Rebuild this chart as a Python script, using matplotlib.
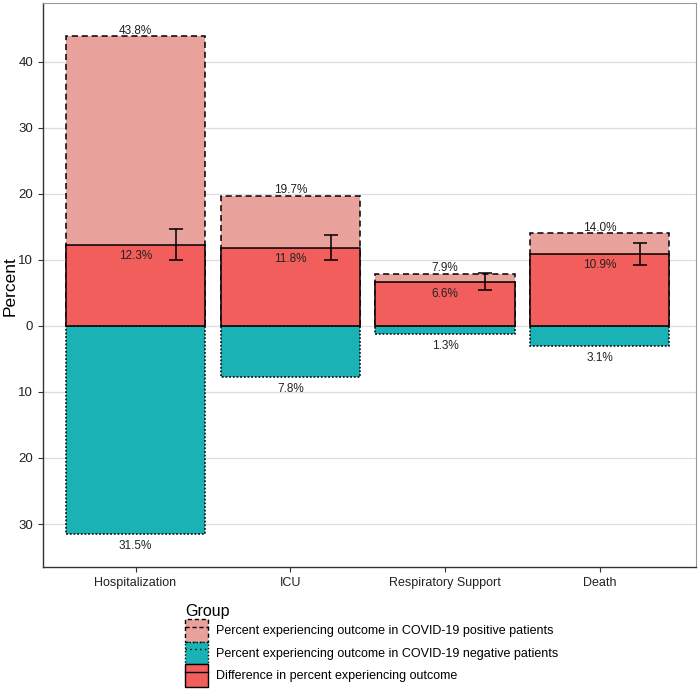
import numpy as np
import matplotlib
matplotlib.use("Agg")
import matplotlib.pyplot as plt
from matplotlib.patches import Patch
from matplotlib.lines import Line2D
from matplotlib.legend_handler import HandlerTuple
from matplotlib.ticker import FuncFormatter

plt.rcParams['font.family'] = ['Liberation Sans', 'DejaVu Sans']

outcomes = ['Hospitalization', 'ICU', 'Respiratory Support', 'Death']
pct_pos = [43.8, 19.7, 7.9, 14.0]
pct_neg = [31.5, 7.8, 1.3, 3.1]
pct_diff = [12.3, 11.8, 6.6, 10.9]
ci_low = [10.0, 10.0, 5.45, 9.2]
ci_high = [14.7, 13.8, 8.0, 12.5]

col_pos = '#E8A19B'
col_neg = '#1AB2B5'
col_diff = '#F25E5B'

fig = plt.figure(figsize=(7, 7), dpi=100)
ax = fig.add_axes([0.061, 0.19, 0.933, 0.806])

x = np.arange(1, len(outcomes) + 1)
w = 0.9
pos = np.array(pct_pos)
neg = np.array(pct_neg)
diff = np.array(pct_diff)

ax.bar(x, pos, width=w, color=col_pos, edgecolor='black', linestyle=(0, (4, 2.5)), linewidth=1.1, zorder=2)
ax.bar(x, diff, width=w, color=col_diff, edgecolor='black', linewidth=1.1, zorder=3)
ax.bar(x, -neg, width=w, color=col_neg, edgecolor='black', linestyle=(0, (1.2, 1.2)), linewidth=1.1, zorder=2)

ax.errorbar(x + 0.26, diff, yerr=[diff - np.array(ci_low), np.array(ci_high) - diff],
            fmt='none', ecolor='black', elinewidth=1.1, capsize=4.9, capthick=1.1, zorder=4)

for xi, p, n, d in zip(x, pos, neg, diff):
    ax.annotate(f"{p:.1f}%", (xi, p), xytext=(0, -0.5), textcoords='offset points',
                ha='center', va='bottom', fontsize=8.5, color='#222222', zorder=5)
    ax.annotate(f"{d:.1f}%", (xi, d), xytext=(0, -4), textcoords='offset points',
                ha='center', va='top', fontsize=8.5, color='#222222', zorder=5)
    ax.annotate(f"{n:.1f}%", (xi, -n), xytext=(0, -4), textcoords='offset points',
                ha='center', va='top', fontsize=8.5, color='#222222', zorder=5)

ax.set_xlim(0.4, 4.62)
ax.set_ylim(-36.5, 48.9)
ax.set_xticks(x)
ax.set_xticklabels(outcomes, fontsize=9, color='#222222')
ax.set_yticks(np.arange(-30, 41, 10))
ax.yaxis.set_major_formatter(FuncFormatter(lambda v, p: f"{abs(v):g}"))
ax.tick_params(axis='y', labelsize=9.5, labelcolor='#222222', length=3.5, color='#333333')
ax.tick_params(axis='x', length=3.5, color='#333333')
ax.yaxis.grid(True, color='#DDDDDD', linewidth=0.9, zorder=0)
ax.set_axisbelow(True)
for s in ['left', 'bottom']:
    ax.spines[s].set_color('#333333')
    ax.spines[s].set_linewidth(1.0)
for s in ['top', 'right']:
    ax.spines[s].set_color('#999999')
    ax.spines[s].set_linewidth(0.8)

fig.text(10 / 700, 1 - 286 / 700, 'Percent', rotation=90, ha='center', va='center', fontsize=12.5)

handles = [
    (Patch(facecolor=col_pos, edgecolor='black', linestyle=(0, (3, 2)), linewidth=1.0),
     Line2D([], [], color='black', linestyle=(0, (3, 2)), linewidth=1.0)),
    (Patch(facecolor=col_neg, edgecolor='black', linestyle=(0, (1, 1.5)), linewidth=1.0),
     Line2D([], [], color='black', linestyle=(0, (1, 2.5)), linewidth=1.0)),
    (Patch(facecolor=col_diff, edgecolor='black', linewidth=1.0),
     Line2D([], [], color='black', linewidth=1.0)),
]
labels = ['Percent experiencing outcome in COVID-19 positive patients',
          'Percent experiencing outcome in COVID-19 negative patients',
          'Difference in percent experiencing outcome']
leg = fig.legend(handles, labels, handler_map={tuple: HandlerTuple(ndivide=1, pad=0)},
                 loc='upper left', bbox_to_anchor=(185 / 700, 1 - 604 / 700), frameon=False,
                 title='Group', title_fontsize=11.5, fontsize=9,
                 handlelength=1.8, handleheight=2.4, labelspacing=0.0,
                 handletextpad=0.7, borderpad=0, borderaxespad=0, alignment='left')

fig.savefig('out.png', dpi=100)
